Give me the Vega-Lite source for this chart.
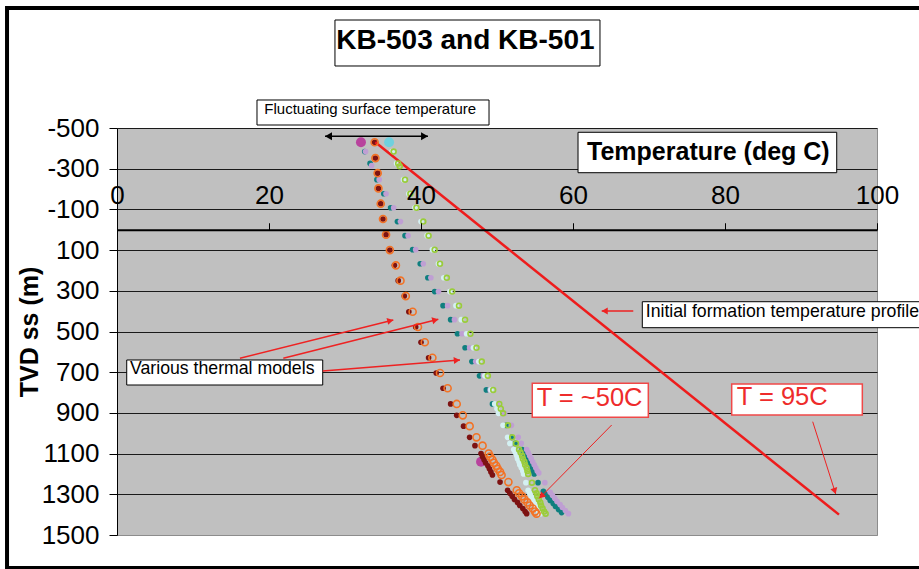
{
  "$schema": "https://vega.github.io/schema/vega-lite/v6.json",
  "width": 760,
  "height": 407,
  "autosize": {"type": "none"},
  "padding": {"left": 117, "top": 128, "right": 42, "bottom": 34},
  "background": "white",
  "config": {
    "font": "Liberation Sans",
    "view": {"fill": "#c0c0c0", "stroke": "#8c8c8c", "strokeWidth": 1}
  },
  "data": {"values": [{"k": 1}]},
  "datasets": {
    "profile": [{"t": 34.0, "d": -430}, {"t": 95.0, "d": 1400}],
    "points": [
      {"s":"Mag","t":32.1,"d":-430},{"s":"Mag","t":47.9,"d":1140},
      {"s":"Cy","t":35.8,"d":-430},
      {"s":"M","t":33.9,"d":-430},{"s":"M","t":34.0,"d":-352},{"s":"M","t":34.3,"d":-278},{"s":"M","t":34.4,"d":-203},{"s":"M","t":34.7,"d":-128},{"s":"M","t":35.0,"d":-53},{"s":"M","t":35.4,"d":24},{"s":"M","t":35.9,"d":100},{"s":"M","t":36.5,"d":175},{"s":"M","t":37.0,"d":250},{"s":"M","t":37.8,"d":326},{"s":"M","t":38.4,"d":403},{"s":"M","t":39.3,"d":478},{"s":"M","t":40.0,"d":553},{"s":"M","t":41.0,"d":629},{"s":"M","t":42.0,"d":704},{"s":"M","t":42.9,"d":779},{"s":"M","t":43.9,"d":856},{"s":"M","t":44.7,"d":912},{"s":"M","t":45.6,"d":965},{"s":"M","t":46.4,"d":1020},{"s":"M","t":47.1,"d":1061},{"s":"M","t":47.9,"d":1100},{"s":"M","t":48.1,"d":1115},{"s":"M","t":48.3,"d":1130},{"s":"M","t":48.5,"d":1145},{"s":"M","t":48.8,"d":1160},{"s":"M","t":49.0,"d":1175},{"s":"M","t":49.2,"d":1190},{"s":"M","t":49.4,"d":1205},{"s":"M","t":50.4,"d":1240},{"s":"M","t":51.4,"d":1280},{"s":"M","t":51.7,"d":1295},{"s":"M","t":52.0,"d":1310},{"s":"M","t":52.3,"d":1325},{"s":"M","t":52.7,"d":1340},{"s":"M","t":53.0,"d":1355},{"s":"M","t":53.4,"d":1370},{"s":"M","t":53.7,"d":1385},{"s":"M","t":53.9,"d":1395},
      {"s":"T","t":32.6,"d":-384},{"s":"T","t":33.3,"d":-326},{"s":"T","t":34.2,"d":-246},{"s":"T","t":35.1,"d":-177},{"s":"T","t":36.0,"d":-108},{"s":"T","t":36.9,"d":-40},{"s":"T","t":37.9,"d":29},{"s":"T","t":38.9,"d":98},{"s":"T","t":39.9,"d":167},{"s":"T","t":40.9,"d":236},{"s":"T","t":41.8,"d":304},{"s":"T","t":42.9,"d":373},{"s":"T","t":43.9,"d":442},{"s":"T","t":44.8,"d":511},{"s":"T","t":45.8,"d":580},{"s":"T","t":46.7,"d":648},{"s":"T","t":47.7,"d":718},{"s":"T","t":48.6,"d":787},{"s":"T","t":49.4,"d":856},{"s":"T","t":51.2,"d":961},{"s":"T","t":51.9,"d":1020},{"s":"T","t":52.4,"d":1050},{"s":"T","t":53.3,"d":1080},{"s":"T","t":53.5,"d":1095},{"s":"T","t":53.7,"d":1110},{"s":"T","t":53.9,"d":1125},{"s":"T","t":54.1,"d":1140},{"s":"T","t":54.3,"d":1155},{"s":"T","t":54.5,"d":1170},{"s":"T","t":54.7,"d":1185},{"s":"T","t":54.9,"d":1200},{"s":"T","t":55.4,"d":1243},{"s":"T","t":56.1,"d":1285},{"s":"T","t":56.4,"d":1300},{"s":"T","t":56.7,"d":1315},{"s":"T","t":57.0,"d":1330},{"s":"T","t":57.4,"d":1345},{"s":"T","t":57.7,"d":1360},{"s":"T","t":58.1,"d":1375},{"s":"T","t":58.5,"d":1390},
      {"s":"L","t":32.7,"d":-384},{"s":"L","t":33.5,"d":-315},{"s":"L","t":34.5,"d":-246},{"s":"L","t":35.4,"d":-177},{"s":"L","t":36.4,"d":-108},{"s":"L","t":37.3,"d":-40},{"s":"L","t":38.3,"d":29},{"s":"L","t":39.3,"d":98},{"s":"L","t":40.3,"d":167},{"s":"L","t":41.3,"d":236},{"s":"L","t":42.3,"d":304},{"s":"L","t":43.5,"d":373},{"s":"L","t":44.4,"d":442},{"s":"L","t":45.4,"d":511},{"s":"L","t":46.4,"d":580},{"s":"L","t":47.2,"d":648},{"s":"L","t":48.2,"d":718},{"s":"L","t":49.1,"d":787},{"s":"L","t":50.0,"d":856},{"s":"L","t":51.0,"d":902},{"s":"L","t":51.9,"d":961},{"s":"L","t":52.8,"d":1020},{"s":"L","t":53.2,"d":1050},{"s":"L","t":53.9,"d":1080},{"s":"L","t":54.1,"d":1095},{"s":"L","t":54.3,"d":1110},{"s":"L","t":54.5,"d":1125},{"s":"L","t":54.7,"d":1140},{"s":"L","t":54.9,"d":1155},{"s":"L","t":55.1,"d":1170},{"s":"L","t":55.3,"d":1185},{"s":"L","t":55.5,"d":1195},{"s":"L","t":56.3,"d":1243},{"s":"L","t":57.0,"d":1290},{"s":"L","t":57.3,"d":1305},{"s":"L","t":57.6,"d":1320},{"s":"L","t":57.9,"d":1335},{"s":"L","t":58.3,"d":1350},{"s":"L","t":58.6,"d":1365},{"s":"L","t":59.0,"d":1380},{"s":"L","t":59.4,"d":1395},
      {"s":"P","t":36.2,"d":-384},{"s":"P","t":36.8,"d":-326},{"s":"P","t":37.7,"d":-246},{"s":"P","t":38.4,"d":-177},{"s":"P","t":39.2,"d":-108},{"s":"P","t":40.0,"d":-40},{"s":"P","t":40.8,"d":29},{"s":"P","t":41.5,"d":98},{"s":"P","t":42.3,"d":167},{"s":"P","t":43.0,"d":236},{"s":"P","t":43.8,"d":304},{"s":"P","t":44.6,"d":373},{"s":"P","t":45.3,"d":442},{"s":"P","t":46.0,"d":511},{"s":"P","t":46.9,"d":580},{"s":"P","t":47.6,"d":648},{"s":"P","t":48.4,"d":718},{"s":"P","t":49.2,"d":787},{"s":"P","t":49.7,"d":856},{"s":"P","t":50.0,"d":879},{"s":"P","t":50.2,"d":902},{"s":"P","t":50.8,"d":961},{"s":"P","t":51.4,"d":1020},{"s":"P","t":51.7,"d":1050},{"s":"P","t":52.2,"d":1080},{"s":"P","t":52.4,"d":1095},{"s":"P","t":52.6,"d":1110},{"s":"P","t":52.7,"d":1125},{"s":"P","t":52.9,"d":1140},{"s":"P","t":53.0,"d":1155},{"s":"P","t":53.2,"d":1170},{"s":"P","t":53.4,"d":1185},{"s":"P","t":53.5,"d":1200},{"s":"P","t":53.8,"d":1243},{"s":"P","t":54.1,"d":1280},{"s":"P","t":54.3,"d":1295},{"s":"P","t":54.5,"d":1310},{"s":"P","t":54.7,"d":1325},{"s":"P","t":54.9,"d":1340},{"s":"P","t":55.1,"d":1355},{"s":"P","t":55.3,"d":1370},{"s":"P","t":55.5,"d":1385},{"s":"P","t":55.7,"d":1395},
      {"s":"O","t":33.9,"d":-430},{"s":"O","t":34.0,"d":-352},{"s":"O","t":34.3,"d":-278},{"s":"O","t":34.4,"d":-203},{"s":"O","t":34.7,"d":-128},{"s":"O","t":35.0,"d":-53},{"s":"O","t":35.4,"d":24},{"s":"O","t":35.9,"d":100},{"s":"O","t":36.7,"d":175},{"s":"O","t":37.3,"d":250},{"s":"O","t":38.0,"d":326},{"s":"O","t":38.9,"d":403},{"s":"O","t":39.6,"d":478},{"s":"O","t":40.5,"d":553},{"s":"O","t":41.5,"d":629},{"s":"O","t":42.5,"d":704},{"s":"O","t":43.5,"d":779},{"s":"O","t":44.7,"d":856},{"s":"O","t":45.5,"d":912},{"s":"O","t":46.4,"d":965},{"s":"O","t":47.3,"d":1020},{"s":"O","t":48.1,"d":1061},{"s":"O","t":48.9,"d":1100},{"s":"O","t":49.1,"d":1115},{"s":"O","t":49.4,"d":1130},{"s":"O","t":49.6,"d":1145},{"s":"O","t":49.9,"d":1160},{"s":"O","t":50.1,"d":1175},{"s":"O","t":50.4,"d":1190},{"s":"O","t":50.6,"d":1205},{"s":"O","t":51.5,"d":1240},{"s":"O","t":52.6,"d":1280},{"s":"O","t":52.9,"d":1295},{"s":"O","t":53.3,"d":1310},{"s":"O","t":53.6,"d":1325},{"s":"O","t":54.0,"d":1340},{"s":"O","t":54.3,"d":1355},{"s":"O","t":54.7,"d":1370},{"s":"O","t":55.0,"d":1385},{"s":"O","t":55.2,"d":1395},
      {"s":"G","t":36.4,"d":-384},{"s":"G","t":37.0,"d":-326},{"s":"G","t":37.2,"d":-312},{"s":"G","t":37.9,"d":-246},{"s":"G","t":38.6,"d":-177},{"s":"G","t":39.4,"d":-108},{"s":"G","t":40.3,"d":-40},{"s":"G","t":41.0,"d":29},{"s":"G","t":41.8,"d":98},{"s":"G","t":42.5,"d":167},{"s":"G","t":43.4,"d":236},{"s":"G","t":44.1,"d":304},{"s":"G","t":45.0,"d":373},{"s":"G","t":45.8,"d":442},{"s":"G","t":46.5,"d":511},{"s":"G","t":47.3,"d":580},{"s":"G","t":48.0,"d":648},{"s":"G","t":48.8,"d":718},{"s":"G","t":49.5,"d":787},{"s":"G","t":50.3,"d":856},{"s":"G","t":50.5,"d":879},{"s":"G","t":50.8,"d":902},{"s":"G","t":51.45,"d":961},{"s":"G","t":52.0,"d":1020},{"s":"G","t":52.5,"d":1050},{"s":"G","t":52.9,"d":1080},{"s":"G","t":53.1,"d":1095},{"s":"G","t":53.3,"d":1110},{"s":"G","t":53.4,"d":1125},{"s":"G","t":53.6,"d":1140},{"s":"G","t":53.7,"d":1155},{"s":"G","t":53.9,"d":1170},{"s":"G","t":54.0,"d":1185},{"s":"G","t":54.1,"d":1200},{"s":"G","t":54.6,"d":1243},{"s":"G","t":55.0,"d":1280},{"s":"G","t":55.2,"d":1295},{"s":"G","t":55.3,"d":1310},{"s":"G","t":55.5,"d":1325},{"s":"G","t":55.7,"d":1340},{"s":"G","t":55.8,"d":1355},{"s":"G","t":56.0,"d":1370},{"s":"G","t":56.2,"d":1385},{"s":"G","t":56.4,"d":1395}
    ]
  },
  "layer": [
    {
      "data": {"name": "points"},
      "transform": [{"filter": "datum.s !== 'O' && datum.s !== 'G'"}],
      "mark": {"type": "point", "shape": "circle", "filled": true, "opacity": 1, "strokeWidth": 0},
      "encoding": {
        "x": {"field": "t", "type": "quantitative",
          "scale": {"domain": [0, 100], "nice": false, "zero": false},
          "axis": {"orient": "top", "offset": -101.75, "values": [0, 20, 40, 60, 80, 100], "title": null,
            "labelFontSize": 26, "labelColor": "black", "labelPadding": 14, "labelFlush": false, "labelOverlap": false,
            "domainColor": "black", "domainWidth": 2, "tickColor": "black", "tickSize": 7, "tickWidth": 1,
            "grid": false, "zindex": 1}},
        "y": {"field": "d", "type": "quantitative",
          "scale": {"domain": [-500, 1500], "reverse": true, "nice": false, "zero": false},
          "axis": {"orient": "left", "values": [-500, -300, -100, 100, 300, 500, 700, 900, 1100, 1300, 1500],
            "labelExpr": "'' + datum.value",
            "title": "TVD ss (m)", "titleFontSize": 25, "titleFontWeight": "bold", "titleColor": "black",
            "titleX": -88, "titleY": 203.5, "titleAngle": 270, "titleAlign": "center", "titleBaseline": "middle",
            "labelFontSize": 26, "labelColor": "black", "labelPadding": 10, "labelOverlap": false, "labelFlush": false,
            "domainColor": "black", "domainWidth": 1, "tickColor": "black", "tickSize": 8,
            "grid": true, "gridColor": {"condition": {"test": "datum.value === 1500", "value": "#8c8c8c"}, "value": "#1a1a1a"},
            "gridWidth": 1, "gridOpacity": 1}},
        "color": {"field": "s", "type": "nominal", "legend": null,
          "scale": {"domain": ["Mag", "Cy", "M", "T", "L", "P", "O", "G"],
            "range": ["#b8439d", "#6fd0de", "#7d1212", "#0f7f7f", "#bf9fd3", "#d4f0f2", "#f37224", "#9acd3a"]}},
        "size": {"field": "s", "type": "nominal", "legend": null,
          "scale": {"type": "ordinal", "domain": ["Mag", "Cy", "M", "T", "L", "P", "O", "G"],
            "range": [100, 100, 32, 32, 32, 32, 50, 24]}}
      }
    },
    {
      "data": {"name": "profile"},
      "mark": {"type": "line", "color": "#ee1c1c", "strokeWidth": 2.5},
      "encoding": {
        "x": {"field": "t", "type": "quantitative"},
        "y": {"field": "d", "type": "quantitative"}
      }
    },
    {
      "data": {"name": "points"},
      "transform": [{"filter": "datum.s === 'O' || datum.s === 'G'"}],
      "mark": {"type": "point", "shape": "circle", "filled": false, "opacity": 1, "strokeWidth": 1.6},
      "encoding": {
        "x": {"field": "t", "type": "quantitative"},
        "y": {"field": "d", "type": "quantitative"},
        "color": {"field": "s", "type": "nominal", "legend": null,
          "scale": {"domain": ["Mag", "Cy", "M", "T", "L", "P", "O", "G"],
            "range": ["#b8439d", "#6fd0de", "#7d1212", "#0f7f7f", "#bf9fd3", "#d4f0f2", "#f37224", "#9acd3a"]}},
        "size": {"field": "s", "type": "nominal", "legend": null,
          "scale": {"type": "ordinal", "domain": ["Mag", "Cy", "M", "T", "L", "P", "O", "G"],
            "range": [100, 100, 32, 32, 32, 32, 50, 24]}}
      }
    },
    {"mark": {"type": "rect", "fillOpacity": 0, "stroke": "black", "strokeWidth": 4},
     "encoding": {"x": {"datum": -14.47}, "x2": {"datum": 106.3}, "y": {"datum": -1089.7}, "y2": {"datum": 1662.2}}},
    {"mark": {"type": "rect", "fill": "white", "stroke": "black", "strokeWidth": 1},
     "encoding": {"x": {"datum": 28.68}, "x2": {"datum": 63.55}, "y": {"datum": -1030.7}, "y2": {"datum": -804.7}}},
    {"mark": {"type": "rect", "fill": "white", "stroke": "black", "strokeWidth": 1},
     "encoding": {"x": {"datum": 18.42}, "x2": {"datum": 48.95}, "y": {"datum": -637.6}, "y2": {"datum": -514.7}}},
    {"mark": {"type": "rect", "fill": "white", "stroke": "black", "strokeWidth": 1},
     "encoding": {"x": {"datum": 60.66}, "x2": {"datum": 94.7}, "y": {"datum": -478.9}, "y2": {"datum": -280.3}}},
    {"mark": {"type": "rect", "fill": "white", "stroke": "black", "strokeWidth": 1},
     "encoding": {"x": {"datum": 1.28}, "x2": {"datum": 27.07}, "y": {"datum": 640.0}, "y2": {"datum": 762.9}}},
    {"mark": {"type": "rect", "fill": "white", "stroke": "black", "strokeWidth": 1},
     "encoding": {"x": {"datum": 69.12}, "x2": {"datum": 106.3}, "y": {"datum": 353.6}, "y2": {"datum": 481.3}}},
    {"mark": {"type": "rect", "fill": "white", "stroke": "#f04848", "strokeWidth": 1.5},
     "encoding": {"x": {"datum": 54.64}, "x2": {"datum": 69.91}, "y": {"datum": 754.5}, "y2": {"datum": 921.6}}},
    {"mark": {"type": "rect", "fill": "white", "stroke": "#f04848", "strokeWidth": 1.5},
     "encoding": {"x": {"datum": 80.88}, "x2": {"datum": 98.07}, "y": {"datum": 758.0}, "y2": {"datum": 910.3}}},
    {"mark": {"type": "text", "text": "KB-503 and KB-501", "align": "center", "baseline": "middle", "fontSize": 28, "fontWeight": "bold", "color": "black"},
     "encoding": {"x": {"datum": 45.84}, "y": {"datum": -926.5}}},
    {"mark": {"type": "text", "text": "Fluctuating surface temperature", "align": "left", "baseline": "middle", "fontSize": 15, "color": "black"},
     "encoding": {"x": {"datum": 19.38}, "y": {"datum": -592.9}}},
    {"mark": {"type": "text", "text": "Temperature (deg C)", "align": "center", "baseline": "middle", "fontSize": 25, "fontWeight": "bold", "color": "black"},
     "encoding": {"x": {"datum": 77.81}, "y": {"datum": -382.8}}},
    {"mark": {"type": "text", "text": "Various thermal models", "align": "left", "baseline": "middle", "fontSize": 17.7, "color": "black"},
     "encoding": {"x": {"datum": 1.71}, "y": {"datum": 685.7}}},
    {"mark": {"type": "text", "text": "Initial formation temperature profile", "align": "left", "baseline": "middle", "fontSize": 17.7, "color": "black"},
     "encoding": {"x": {"datum": 69.57}, "y": {"datum": 402.7}}},
    {"mark": {"type": "text", "text": "T = ~50C", "align": "left", "baseline": "middle", "fontSize": 25.5, "color": "#ee2b2b"},
     "encoding": {"x": {"datum": 55.22}, "y": {"datum": 825.3}}},
    {"mark": {"type": "text", "text": "T = 95C", "align": "left", "baseline": "middle", "fontSize": 25.5, "color": "#ee2b2b"},
     "encoding": {"x": {"datum": 81.54}, "y": {"datum": 823.3}}},
    {"mark": {"type": "rule", "color": "black", "strokeWidth": 1.5},
     "encoding": {"x": {"datum": 27.37}, "x2": {"datum": 40.92}, "y": {"datum": -459.2}, "y2": {"datum": -459.2}}},
    {"mark": {"type": "rule", "color": "#ee2222", "strokeWidth": 1.5},
     "encoding": {"x": {"datum": 16.18}, "x2": {"datum": 36.36}, "y": {"datum": 631.7}, "y2": {"datum": 443.5}}},
    {"mark": {"type": "rule", "color": "#ee2222", "strokeWidth": 1.5},
     "encoding": {"x": {"datum": 21.88}, "x2": {"datum": 42.28}, "y": {"datum": 631.7}, "y2": {"datum": 440.1}}},
    {"mark": {"type": "rule", "color": "#ee2222", "strokeWidth": 1.5},
     "encoding": {"x": {"datum": 27.07}, "x2": {"datum": 45.13}, "y": {"datum": 694.1}, "y2": {"datum": 640.0}}},
    {"mark": {"type": "rule", "color": "#ee2222", "strokeWidth": 1.5},
     "encoding": {"x": {"datum": 67.93}, "x2": {"datum": 63.78}, "y": {"datum": 399.3}, "y2": {"datum": 399.3}}},
    {"mark": {"type": "rule", "color": "#ee2222", "strokeWidth": 1},
     "encoding": {"x": {"datum": 65.09}, "x2": {"datum": 55.57}, "y": {"datum": 959.5}, "y2": {"datum": 1319.7}}},
    {"mark": {"type": "rule", "color": "#ee2222", "strokeWidth": 1},
     "encoding": {"x": {"datum": 91.54}, "x2": {"datum": 94.57}, "y": {"datum": 943.2}, "y2": {"datum": 1298.5}}},
    {"mark": {"type": "point", "shape": "triangle-right", "filled": true, "opacity": 1, "color": "black", "size": 64, "angle": 180},
     "encoding": {"x": {"datum": 27.83}, "y": {"datum": -459.2}}},
    {"mark": {"type": "point", "shape": "triangle-right", "filled": true, "opacity": 1, "color": "black", "size": 64, "angle": 0},
     "encoding": {"x": {"datum": 40.46}, "y": {"datum": -459.2}}},
    {"mark": {"type": "point", "shape": "triangle-right", "filled": true, "opacity": 1, "color": "#ee2222", "size": 50, "angle": 346},
     "encoding": {"x": {"datum": 35.96}, "y": {"datum": 446.9}}},
    {"mark": {"type": "point", "shape": "triangle-right", "filled": true, "opacity": 1, "color": "#ee2222", "size": 50, "angle": 346},
     "encoding": {"x": {"datum": 41.88}, "y": {"datum": 443.5}}},
    {"mark": {"type": "point", "shape": "triangle-right", "filled": true, "opacity": 1, "color": "#ee2222", "size": 50, "angle": 355},
     "encoding": {"x": {"datum": 44.72}, "y": {"datum": 641.1}}},
    {"mark": {"type": "point", "shape": "triangle-right", "filled": true, "opacity": 1, "color": "#ee2222", "size": 50, "angle": 180},
     "encoding": {"x": {"datum": 64.17}, "y": {"datum": 399.3}}},
    {"mark": {"type": "point", "shape": "triangle-right", "filled": true, "opacity": 1, "color": "#ee2222", "size": 50, "angle": 135},
     "encoding": {"x": {"datum": 55.85}, "y": {"datum": 1308.8}}},
    {"mark": {"type": "point", "shape": "triangle-right", "filled": true, "opacity": 1, "color": "#ee2222", "size": 50, "angle": 72},
     "encoding": {"x": {"datum": 94.44}, "y": {"datum": 1284.3}}}
  ]
}
